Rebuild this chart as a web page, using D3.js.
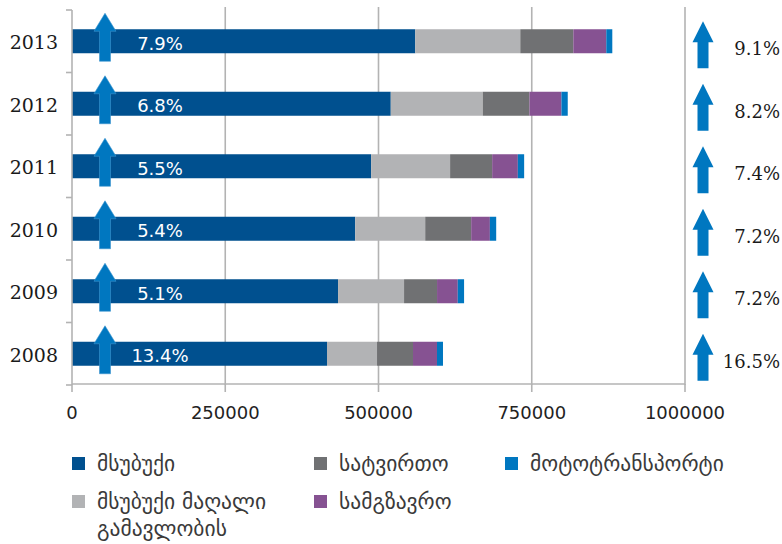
<!DOCTYPE html>
<html>
<head>
<meta charset="utf-8">
<script src="https://cdn.jsdelivr.net/npm/d3@7"></script>
<style>
  body { margin: 0; background: #fff; }
</style>
</head>
<body>
<script>
// data
var years = ["2008", "2009", "2010", "2011", "2012", "2013"];
var seriesNames = ["მსუბუქი", "მსუბუქი მაღალი გამავლობის", "სატვირთო", "სამგზავრო", "მოტოტრანსპორტი"];
var lightCars = [416000, 434000, 462000, 488000, 520000, 560000];
var offRoad   = [81600, 107700, 114200, 128800, 150100, 171300];
var cargo     = [58700, 53800, 75000, 68600, 76100, 86500];
var buses     = [39100, 33800, 30500, 41900, 52200, 53800];
var moto      = [9800, 10300, 10300, 10300, 10300, 9800];
var growthLight = ["13.4%", "5.1%", "5.4%", "5.5%", "6.8%", "7.9%"];
var growthTotal = ["16.5%", "7.2%", "7.2%", "7.4%", "8.2%", "9.1%"];
var xTicks = [0, 250000, 500000, 750000, 1000000];

var colors = ["#00508F", "#B2B3B5", "#707173", "#865292", "#0077C0"];
var arrowColor = "#0077C0";
var gridColor = "#B3B3B3";

var width = 782, height = 544,
    barHeight = 24;

// build rows for the stack
var rows = years.map(function(y, i) {
  return { year: y, s0: lightCars[i], s1: offRoad[i], s2: cargo[i], s3: buses[i], s4: moto[i] };
});
var keys = ["s0", "s1", "s2", "s3", "s4"];
var stacked = d3.stack().keys(keys)(rows);

var x = d3.scaleLinear().domain([0, 1000000]).range([72, 685]);
var y = d3.scaleBand().domain(years.slice().reverse()).range([10, 385]);

var svg = d3.select("body").append("svg")
    .attr("width", width)
    .attr("height", height);

// gridlines
svg.append("g").selectAll("line")
    .data(xTicks.slice(1))
    .enter().append("line")
    .attr("x1", function(d) { return x(d); })
    .attr("x2", function(d) { return x(d); })
    .attr("y1", 7)
    .attr("y2", 385)
    .attr("stroke", gridColor)
    .attr("stroke-width", 1.6);

// bars
var layers = svg.append("g").selectAll("g")
    .data(stacked)
    .enter().append("g")
    .attr("fill", function(d, i) { return colors[i]; });

layers.selectAll("rect")
    .data(function(d) { return d; })
    .enter().append("rect")
    .attr("x", function(d) { return x(d[0]); })
    .attr("width", function(d) { return x(d[1]) - x(d[0]); })
    .attr("y", function(d) { return y(d.data.year) + (y.bandwidth() - barHeight) / 2; })
    .attr("height", barHeight);

// left category axis
var yAxis = svg.append("g");
yAxis.append("line")
    .attr("x1", 72).attr("x2", 72)
    .attr("y1", 10).attr("y2", 385)
    .attr("stroke", gridColor).attr("stroke-width", 1.6);
var bounds = years.map(function(d) { return y(d); }).concat([385]);
yAxis.selectAll("line.tick")
    .data(bounds)
    .enter().append("line")
    .attr("class", "tick")
    .attr("x1", 66).attr("x2", 72)
    .attr("y1", function(d) { return d; })
    .attr("y2", function(d) { return d; })
    .attr("stroke", gridColor).attr("stroke-width", 1.6);
yAxis.selectAll("text")
    .data(years)
    .enter().append("text")
    .attr("x", 58)
    .attr("y", function(d) { return y(d) + y.bandwidth() / 2 + 1; })
    .attr("text-anchor", "end")
    .attr("dominant-baseline", "central")
    .style("font-family", "'DejaVu Serif', serif")
    .style("font-size", "19px")
    .style("fill", "#1a1a1a")
    .text(function(d) { return d; });

// bottom axis
var xAxis = svg.append("g");
xAxis.append("line")
    .attr("x1", 72).attr("x2", 685)
    .attr("y1", 384).attr("y2", 384)
    .attr("stroke", gridColor).attr("stroke-width", 1.6);
xAxis.selectAll("line.tick")
    .data(xTicks)
    .enter().append("line")
    .attr("class", "tick")
    .attr("x1", function(d) { return x(d); })
    .attr("x2", function(d) { return x(d); })
    .attr("y1", 384).attr("y2", 392)
    .attr("stroke", gridColor).attr("stroke-width", 1.6);
xAxis.selectAll("text")
    .data(xTicks)
    .enter().append("text")
    .attr("x", function(d) { return x(d); })
    .attr("y", 419)
    .attr("text-anchor", "middle")
    .style("font-family", "'DejaVu Sans', sans-serif")
    .style("font-size", "18px")
    .style("fill", "#222")
    .text(function(d) { return d; });

// arrow path centred on (0,0)
function arrowPath(top, headBase, bottom, headHalf, shaftHalf) {
  return "M0," + top +
    "L" + headHalf + "," + headBase +
    "L" + shaftHalf + "," + headBase +
    "L" + shaftHalf + "," + bottom +
    "L" + (-shaftHalf) + "," + bottom +
    "L" + (-shaftHalf) + "," + headBase +
    "L" + (-headHalf) + "," + headBase + "Z";
}

// left arrows + growth of light cars
var left = svg.append("g").selectAll("g")
    .data(years)
    .enter().append("g")
    .attr("transform", function(d) { return "translate(105," + (y(d) + y.bandwidth() / 2) + ")"; });
left.append("path")
    .attr("d", arrowPath(-28, -10, 20, 11, 5.5))
    .attr("fill", arrowColor)
    .attr("stroke", "#3d95d0")
    .attr("stroke-width", 0.6);
left.append("text")
    .attr("x", 55)
    .attr("y", 2)
    .attr("text-anchor", "middle")
    .attr("dominant-baseline", "central")
    .style("font-family", "'DejaVu Sans', sans-serif")
    .style("font-size", "18px")
    .style("fill", "#fff")
    .text(function(d, i) { return growthLight[i]; });

// right arrows + total growth
var right = svg.append("g").selectAll("g")
    .data(years)
    .enter().append("g")
    .attr("transform", function(d) { return "translate(703," + (y(d) + y.bandwidth() / 2) + ")"; });
right.append("path")
    .attr("d", arrowPath(-20, 1, 27, 10.5, 5.5))
    .attr("fill", arrowColor);
right.append("text")
    .attr("x", 77)
    .attr("y", 14)
    .attr("text-anchor", "end")
    .style("font-family", "'DejaVu Serif', serif")
    .style("font-size", "18px")
    .style("fill", "#1a1a1a")
    .text(function(d, i) { return growthTotal[i]; });

// legend: two rows, filled column by column
var legendCols = [72, 314, 505], legendRows = [457, 495];
var legend = svg.append("g").selectAll("g")
    .data(seriesNames)
    .enter().append("g")
    .attr("transform", function(d, i) {
      return "translate(" + legendCols[Math.floor(i / 2)] + "," + legendRows[i % 2] + ")";
    });
legend.append("rect")
    .attr("width", 13).attr("height", 13)
    .attr("fill", function(d, i) { return colors[i]; });
legend.append("text")
    .attr("x", 25)
    .attr("y", 14)
    .style("font-family", "'DejaVu Sans', sans-serif")
    .style("font-size", "21.5px")
    .style("fill", "#3a3a3a")
    .each(function(d) {
      var words = d.split(" ");
      var t = d3.select(this);
      if (words.length > 2) {
        t.append("tspan").attr("x", 25).text(words.slice(0, 2).join(" "));
        t.append("tspan").attr("x", 25).attr("dy", 27).text(words.slice(2).join(" "));
      } else {
        t.text(d);
      }
    });
</script>
</body>
</html>
